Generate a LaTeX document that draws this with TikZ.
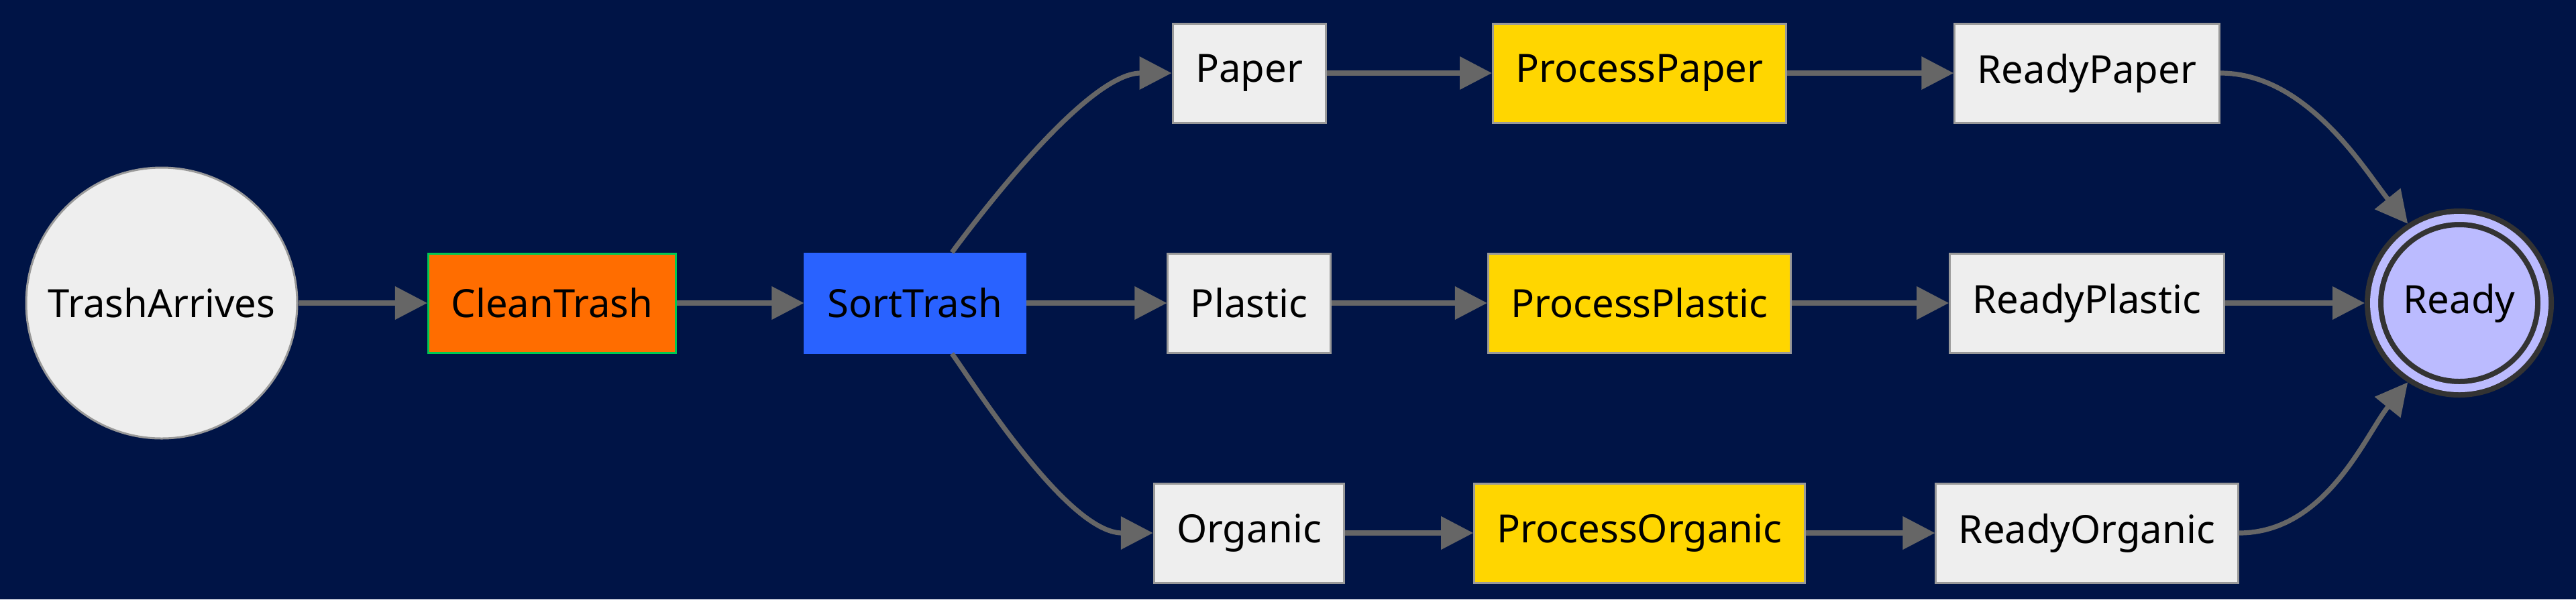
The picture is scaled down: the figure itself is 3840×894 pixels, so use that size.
\documentclass[tikz,border=0pt]{standalone}
\usepackage{fontspec}
\setmainfont{Noto Sans}
\usetikzlibrary{arrows.meta,positioning,calc}
\definecolor{navybg}{RGB}{0,20,70}
\definecolor{boxfill}{RGB}{238,238,238}
\definecolor{boxline}{RGB}{153,153,153}
\definecolor{cleanfill}{RGB}{255,109,0}
\definecolor{cleanline}{RGB}{0,200,83}
\definecolor{sortfill}{RGB}{41,98,255}
\definecolor{procfill}{RGB}{255,214,0}
\definecolor{readyfill}{RGB}{187,187,255}
\definecolor{readyline}{RGB}{51,51,51}
\definecolor{edgegray}{RGB}{102,102,102}

\begin{document}
\begin{tikzpicture}[x=0.25pt, y=0.25pt,
  box/.style={draw=boxline, fill=boxfill, line width=0.75pt, minimum height=37pt,
              inner xsep=8.5pt, font=\fontsize{14.5}{17}\selectfont},
  proc/.style={box, fill=procfill},
  arr/.style={-{Triangle[length=12pt, width=12pt]}, draw=edgegray, line width=1.8pt}]
  \fill[navybg] (0,0) rectangle (3840,894);

  \node[box, circle, minimum size=101pt, inner sep=0pt] (arrives) at (241,442) {TrashArrives};
  \node[box, fill=cleanfill, draw=cleanline] (clean) at (823,442) {CleanTrash};
  \node[box, fill=sortfill, draw=sortfill] (sort) at (1364,442) {SortTrash};

  \node[box] (plastic) at (1862,442) {Plastic};
  \node[box, above=48pt of plastic] (paper) {Paper};
  \node[box, below=48pt of plastic] (organic) {Organic};

  \node[proc] (procplastic) at (2444,442) {ProcessPlastic};
  \node[proc, above=48pt of procplastic] (procpaper) {ProcessPaper};
  \node[proc, below=48pt of procplastic] (procorganic) {ProcessOrganic};

  \node[box] (readyplastic) at (3111,442) {ReadyPlastic};
  \node[box, above=48pt of readyplastic] (readypaper) {ReadyPaper};
  \node[box, below=48pt of readyplastic] (readyorganic) {ReadyOrganic};

  \node[circle, minimum size=63.5pt, inner sep=0pt, outer sep=3.5pt, fill=readyfill,
        draw=readyline, line width=2pt, double=readyfill, double distance=3pt,
        font=\fontsize{14.5}{17}\selectfont] (ready) at (3666,442) {Ready};

  \draw[arr] (arrives) -- (clean);
  \draw[arr] (clean) -- (sort);
  \draw[arr] (sort) -- (plastic);
  \draw[arr] ($(sort.north)+(55,0)$) .. controls +(26,35) and +(-129,0) .. (paper.west);
  \draw[arr] ($(sort.south)+(55,0)$) .. controls +(26,-35) and +(-129,0) .. (organic.west);
  \foreach \k in {paper,plastic,organic}{
    \draw[arr] (\k) -- (proc\k);
    \draw[arr] (proc\k) -- (ready\k);
  }
  \draw[arr] (readyplastic) -- (ready);
  \draw[arr] (readypaper.east) .. controls +(130,0) and +(-63,78) .. (ready.123);
  \draw[arr] (readyorganic.east) .. controls +(130,0) and +(-63,-78) .. (ready.-123);
\end{tikzpicture}
\end{document}
